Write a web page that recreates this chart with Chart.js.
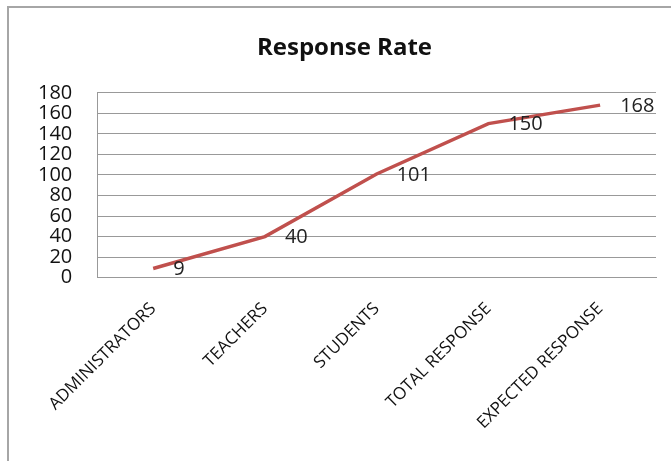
<!DOCTYPE html>
<html>
<head>
<meta charset="utf-8">
<script src="https://cdn.jsdelivr.net/npm/chart.js@4/dist/chart.umd.min.js"></script>
<style>
    body { margin: 0; background: #fff; }
    #wrap { position: relative; width: 671px; height: 461px; }
    #frame {
        position: absolute; left: 7px; top: 6px; right: 0; bottom: 0;
        border-top: 2px solid #a6a6a6; border-left: 2px solid #a6a6a6;
        pointer-events: none;
    }
</style>
</head>
<body>
<div id="wrap">
    <canvas id="chart" width="671" height="461"></canvas>
    <div id="frame"></div>
</div>
<script>
var categories = ["ADMINISTRATORS", "TEACHERS", "STUDENTS", "TOTAL RESPONSE", "EXPECTED RESPONSE"];
var responses = [9, 40, 101, 150, 168];
var yTicks = [0, 20, 40, 60, 80, 100, 120, 140, 160, 180];

// value labels to the right of each point
const valueLabels = {
    id: "valueLabels",
    afterDatasetsDraw(chart) {
        var ctx = chart.ctx;
        var meta = chart.getDatasetMeta(0);
        ctx.save();
        ctx.font = "20px 'Open Sans'";
        ctx.fillStyle = "#222";
        ctx.textAlign = "left";
        ctx.textBaseline = "middle";
        meta.data.forEach(function (pt, i) {
            ctx.fillText(String(chart.data.datasets[0].data[i]), pt.x + 20, pt.y + 1);
        });
        ctx.restore();
    }
};

function init_plot(container_name) {
    var ctx = document.getElementById(container_name).getContext("2d");
    const config = {
        type: "line",
        data: {
            labels: categories,
            datasets: [{
                label: "Response Rate",
                data: responses,
                borderColor: "#c0504d",
                backgroundColor: "#c0504d",
                borderWidth: 3.5,
                pointRadius: 0,
                tension: 0
            }]
        },
        options: {
            responsive: false,
            animation: false,
            layout: {
                padding: { left: 33, right: 15, top: 34, bottom: 15 }
            },
            plugins: {
                legend: { display: false },
                tooltip: { enabled: false },
                title: {
                    display: true,
                    text: "Response Rate",
                    color: "#111",
                    font: { family: "'Open Sans'", size: 24, weight: "bold" },
                    padding: { top: 0, bottom: 30 }
                }
            },
            scales: {
                x: {
                    offset: true,
                    grid: { display: false },
                    border: { display: true, color: "#999", width: 1 },
                    afterFit: function (axis) {
                        // rotated labels may hang past the left edge, as in the original
                        axis.paddingLeft = 0;
                        axis.paddingRight = 0;
                    },
                    ticks: {
                        color: "#111",
                        font: { family: "'Open Sans'", size: 17 },
                        minRotation: 45,
                        maxRotation: 45,
                        autoSkip: false,
                        padding: 13
                    }
                },
                y: {
                    min: 0,
                    max: 180,
                    afterBuildTicks: function (axis) {
                        axis.ticks = yTicks.map(function (v) { return { value: v }; });
                    },
                    afterFit: function (axis) {
                        axis.width = axis.width - 20;
                    },
                    grid: { color: "#999", lineWidth: 1, drawTicks: false },
                    border: { display: true, color: "#999", width: 1 },
                    ticks: {
                        color: "#111",
                        font: { family: "'Open Sans'", size: 20, lineHeight: 1 },
                        autoSkip: false,
                        padding: 25
                    }
                }
            }
        },
        plugins: [valueLabels]
    };
    return new Chart(ctx, config);
}

init_plot("chart");
</script>
</body>
</html>
